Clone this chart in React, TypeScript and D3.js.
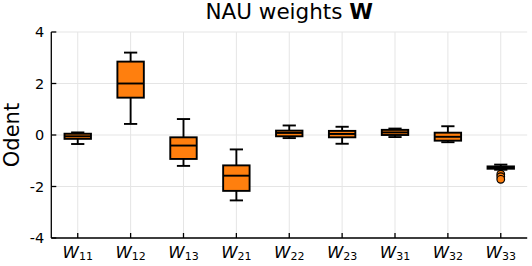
import React from "react";
import * as d3 from "d3";

const categories = ["11", "12", "13", "21", "22", "23", "31", "32", "33"];
const whiskerHigh = [0.1, 3.2, 0.62, -0.56, 0.37, 0.32, 0.25, 0.34, -1.15];
const q3 = [0.05, 2.85, -0.09, -1.18, 0.17, 0.16, 0.2, 0.09, -1.22];
const medians = [-0.05, 2.0, -0.41, -1.58, 0.08, 0.04, 0.1, -0.07, -1.27];
const q1 = [-0.15, 1.45, -0.93, -2.17, -0.05, -0.09, 0.0, -0.22, -1.31];
const whiskerLow = [-0.35, 0.43, -1.2, -2.54, -0.12, -0.34, -0.08, -0.28, -1.35];
const outliers: [number, number][] = [[8, -1.52], [8, -1.62], [8, -1.72]];
const yTicks = [-4, -2, 0, 2, 4];

const W = 532, H = 266;
const left = 51.3, right = 527.2, top = 32, bottom = 238;
const orange = "#ff7f0e";
const font = "DejaVu Sans, sans-serif";

export default function App() {
  const x = d3.scaleLinear().domain([0.5, 9.5]).range([left, right]);
  const y = d3.scaleLinear().domain([-4, 4]).range([bottom, top]);
  const bw = x(1.25) - x(1);
  return (
    <svg width={W} height={H} style={{ position: "absolute", left: 0, top: 0 }}>
      <rect width={W} height={H} fill="white" />
      {categories.map((c, i) => (
        <line key={"gx" + i} x1={x(i + 1)} x2={x(i + 1)} y1={top} y2={bottom} stroke="#e5e5e5" strokeWidth={1} />
      ))}
      {yTicks.map((t) => (
        <line key={"gy" + t} x1={left} x2={right} y1={y(t)} y2={y(t)} stroke="#e5e5e5" strokeWidth={1} />
      ))}
      {categories.map((c, i) => {
        const cx = x(i + 1);
        return (
          <g key={"b" + i} stroke="black" strokeWidth={1.9}>
            <line x1={cx} x2={cx} y1={y(whiskerHigh[i])} y2={y(q3[i])} />
            <line x1={cx} x2={cx} y1={y(q1[i])} y2={y(whiskerLow[i])} />
            <line x1={cx - bw / 2} x2={cx + bw / 2} y1={y(whiskerHigh[i])} y2={y(whiskerHigh[i])} />
            <line x1={cx - bw / 2} x2={cx + bw / 2} y1={y(whiskerLow[i])} y2={y(whiskerLow[i])} />
            <rect x={cx - bw} width={bw * 2} y={y(q3[i])} height={y(q1[i]) - y(q3[i])} fill={orange} />
            <line x1={cx - bw} x2={cx + bw} y1={y(medians[i])} y2={y(medians[i])} />
          </g>
        );
      })}
      {outliers.map(([i, v], k) => (
        <circle key={"o" + k} cx={x(i + 1)} cy={y(v)} r={3.8} fill={orange} stroke="black" strokeWidth={1.2} />
      ))}
      <line x1={left} x2={left} y1={top} y2={bottom} stroke="black" strokeWidth={1.3} />
      <line x1={left} x2={right} y1={bottom} y2={bottom} stroke="black" strokeWidth={1.3} />
      {yTicks.map((t) => (
        <g key={"ty" + t}>
          <line x1={left} x2={left + 5} y1={y(t)} y2={y(t)} stroke="black" strokeWidth={1.3} />
          <text x={left - 7} y={y(t)} dy="0.36em" textAnchor="end" fontFamily={font} fontSize={14.5}>
            {t < 0 ? "-" + Math.abs(t) : String(t)}
          </text>
        </g>
      ))}
      {categories.map((c, i) => (
        <g key={"tx" + i}>
          <line x1={x(i + 1)} x2={x(i + 1)} y1={bottom} y2={bottom - 5} stroke="black" strokeWidth={1.3} />
          <text x={x(i + 1)} y={257.5} textAnchor="middle" fontFamily={font} fontSize={16.5}>
            <tspan fontStyle="italic">W</tspan>
            <tspan fontSize={11} dy={2}>{c}</tspan>
          </text>
        </g>
      ))}
      <text x={(left + right) / 2} y={19} textAnchor="middle" fontFamily={font} fontSize={21.5}>
        NAU weights <tspan fontWeight="bold">W</tspan>
      </text>
      <text transform={`translate(19,${(top + bottom) / 2}) rotate(-90)`} textAnchor="middle" fontFamily={font} fontSize={21}>
        Odent
      </text>
    </svg>
  );
}
